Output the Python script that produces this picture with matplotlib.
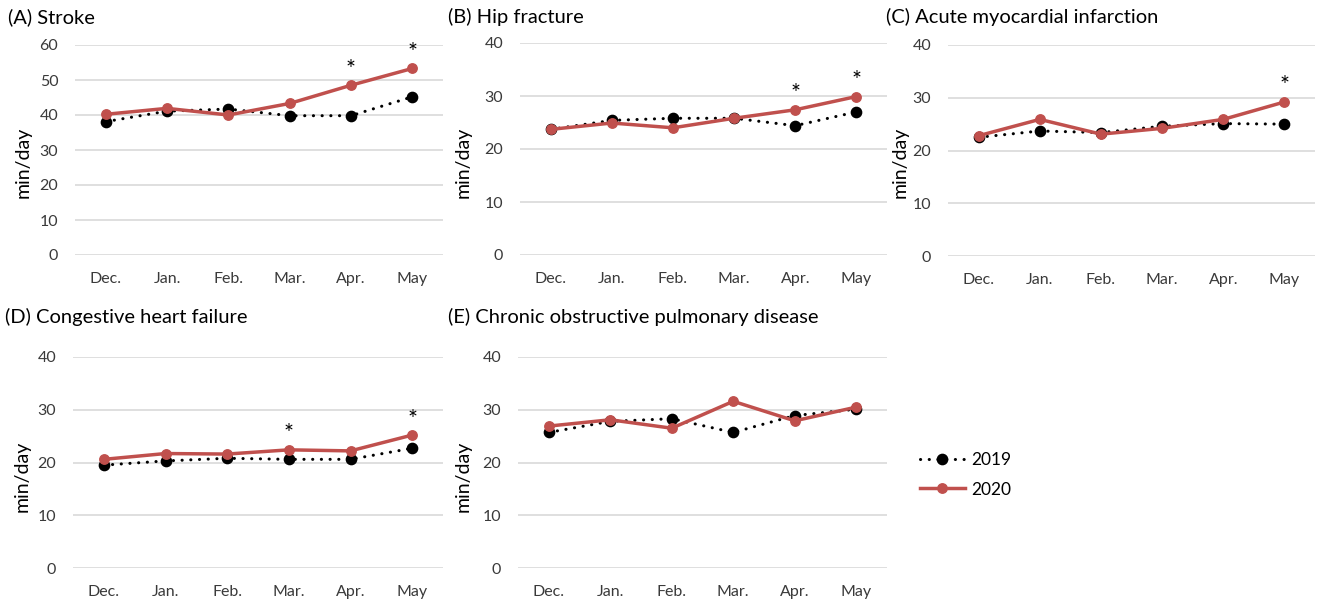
import matplotlib
matplotlib.use("Agg")
import matplotlib.pyplot as plt
from matplotlib.lines import Line2D

plt.rcParams["font.family"] = ["Lato", "DejaVu Sans"]

months = ["Dec.", "Jan.", "Feb.", "Mar.", "Apr.", "May"]

titles = [
    "(A) Stroke",
    "(B) Hip fracture",
    "(C) Acute myocardial infarction",
    "(D) Congestive heart failure",
    "(E) Chronic obstructive pulmonary disease",
]

stroke_2019 = [38.1, 41.1, 41.7, 39.8, 39.8, 45.2]
stroke_2020 = [40.2, 41.9, 40.0, 43.3, 48.5, 53.3]

hip_2019 = [23.7, 25.4, 25.8, 25.8, 24.4, 27.0]
hip_2020 = [23.7, 24.9, 24.0, 25.8, 27.4, 29.9]

ami_2019 = [22.5, 23.7, 23.4, 24.6, 25.1, 25.0]
ami_2020 = [22.8, 25.9, 23.1, 24.2, 25.9, 29.2]

chf_2019 = [19.5, 20.3, 20.8, 20.6, 20.6, 22.7]
chf_2020 = [20.6, 21.7, 21.6, 22.4, 22.2, 25.2]

copd_2019 = [25.7, 27.8, 28.3, 25.7, 28.9, 30.1]
copd_2020 = [26.9, 28.1, 26.5, 31.6, 27.9, 30.5]

# months (index into `months`) where 2020 differs significantly from 2019
stroke_sig = [4, 5]
hip_sig = [4, 5]
ami_sig = [5]
chf_sig = [3, 5]
copd_sig = []

y_max = [60, 40, 40, 40, 40]

series_2019 = [stroke_2019, hip_2019, ami_2019, chf_2019, copd_2019]
series_2020 = [stroke_2020, hip_2020, ami_2020, chf_2020, copd_2020]
significant = [stroke_sig, hip_sig, ami_sig, chf_sig, copd_sig]

RED = "#C0504D"
GRID = "#D9D9D9"
TICK = "#3A3A3A"

W, H = 1319, 603
fig = plt.figure(figsize=(W / 100, H / 100), dpi=100)

# axes boxes in pixels: left, right, y of zero line, y of top line
boxes = [
    (75, 443, 255, 45),
    (520, 887, 255, 43),
    (948, 1315, 256, 45),
    (73, 443, 568, 357),
    (518, 887, 568, 357),
]
# panel title anchors and y-axis title centres, in pixels
title_pos = [(8, 17), (448, 17), (886, 17), (5, 317), (448, 317)]
ylabel_pos = [(23, 162), (463, 162), (900, 162), (22, 476), (463, 476)]

dot_style = (0, (0.05, 2.8))

for i in range(5):
    l, r, y0, y1 = boxes[i]
    ax = fig.add_axes([l / W, (H - y0) / H, (r - l) / W, (y0 - y1) / H])
    x = list(range(len(months)))
    ax.plot(x, series_2019[i], color="black", lw=2.2, linestyle=dot_style,
            dash_capstyle="round", marker="o", markersize=7.4,
            clip_on=False, zorder=3)
    ax.plot(x, series_2020[i], color=RED, lw=2.5, marker="o",
            markersize=6.8, solid_capstyle="round", clip_on=False, zorder=4)
    for k in significant[i]:
        ax.annotate("*", (k, series_2020[i][k]), xytext=(0, 4),
                    textcoords="offset points", ha="center", va="bottom",
                    fontsize=17, color="black")
    ax.set_xlim(-0.5, len(months) - 0.5)
    ax.set_ylim(0, y_max[i])
    ax.set_yticks(range(0, y_max[i] + 1, 10))
    ax.set_xticks(x)
    ax.set_xticklabels(months)
    ax.tick_params(axis="both", length=0, labelsize=11.5, colors=TICK)
    ax.tick_params(axis="y", pad=12)
    ax.tick_params(axis="x", pad=12)
    ax.grid(axis="y", color=GRID, lw=1.2)
    ax.set_axisbelow(True)
    for s in ax.spines.values():
        s.set_visible(False)
    fig.text(ylabel_pos[i][0] / W, 1 - ylabel_pos[i][1] / H, "min/day",
             rotation=90, ha="center", va="center", fontsize=14,
             color="black")
    fig.text(title_pos[i][0] / W, 1 - title_pos[i][1] / H, titles[i],
             ha="left", va="center", fontsize=14.5, color="black")

handles = [
    Line2D([], [], color="black", lw=2.2, linestyle=dot_style,
           dash_capstyle="round", marker="o", markersize=7.4),
    Line2D([], [], color=RED, lw=2.5, marker="o", markersize=6.8),
]
fig.legend(handles, ["2019", "2020"], loc="center left",
           bbox_to_anchor=(904 / W, 1 - 475 / H), frameon=False,
           fontsize=12.5, handlelength=2.6, labelspacing=0.75,
           handletextpad=0.4)

fig.savefig("out.png", dpi=100)
